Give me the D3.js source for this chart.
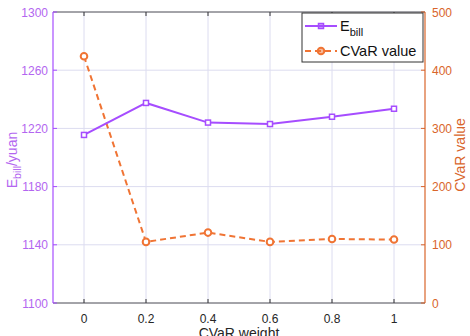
<!DOCTYPE html>
<html>
<head>
<meta charset="utf-8">
<script src="https://cdn.jsdelivr.net/npm/d3@7"></script>
<style>
  body { margin: 0; background: #fff; }
  svg { display: block; font-family: "Liberation Sans", Arial, sans-serif; }
</style>
</head>
<body>
<svg id="chart" width="470" height="336"></svg>
<script>
const weights = [0, 0.2, 0.4, 0.6, 0.8, 1];
const billValues = [1215.5, 1237.5, 1224, 1223, 1228, 1233.5];
const cvarValues = [424, 105, 121, 105, 110, 109];
const xTicks = [0, 0.2, 0.4, 0.6, 0.8, 1];
const leftTicks = [1100, 1140, 1180, 1220, 1260, 1300];
const rightTicks = [0, 100, 200, 300, 400, 500];

const PURPLE = "#a64dff";
const PURPLE_TXT = "#b366f0";
const ORANGE = "#f07434";
const ORANGE_TXT = "#d9652b";

const svg = d3.select("#chart");
const m = { left: 53, right: 425, top: 12, bottom: 303 };

const x = d3.scaleLinear().domain([-0.1, 1.1]).range([m.left, m.right]);
const yL = d3.scaleLinear().domain([1100, 1300]).range([m.bottom, m.top]);
const yR = d3.scaleLinear().domain([0, 500]).range([m.bottom, m.top]);

// grid
const grid = svg.append("g").attr("stroke", "#dcdcf0").attr("stroke-width", 1);
xTicks.forEach(t => {
    grid.append("line").attr("x1", x(t)).attr("x2", x(t))
        .attr("y1", m.top).attr("y2", m.bottom);
});
leftTicks.forEach(t => {
    grid.append("line").attr("x1", m.left).attr("x2", m.right)
        .attr("y1", yL(t)).attr("y2", yL(t));
});

// top and bottom frame
svg.append("line").attr("x1", m.left).attr("x2", m.right).attr("y1", m.top).attr("y2", m.top)
    .attr("stroke", "#5a5a5a");
svg.append("line").attr("x1", m.left).attr("x2", m.right).attr("y1", m.bottom).attr("y2", m.bottom)
    .attr("stroke", "#5a5a5a");

// x ticks (inward, top and bottom)
xTicks.forEach(t => {
    svg.append("line").attr("x1", x(t)).attr("x2", x(t)).attr("y1", m.bottom).attr("y2", m.bottom - 4)
        .attr("stroke", "#333");
    svg.append("line").attr("x1", x(t)).attr("x2", x(t)).attr("y1", m.top).attr("y2", m.top + 4)
        .attr("stroke", "#333");
    svg.append("text").attr("x", x(t)).attr("y", m.bottom + 20)
        .attr("text-anchor", "middle").attr("font-size", 12).attr("fill", "#262626")
        .text(t);
});

// left axis
svg.append("line").attr("x1", m.left).attr("x2", m.left).attr("y1", m.top).attr("y2", m.bottom)
    .attr("stroke", PURPLE).attr("stroke-width", 1.2);
leftTicks.forEach(t => {
    svg.append("line").attr("x1", m.left).attr("x2", m.left + 4).attr("y1", yL(t)).attr("y2", yL(t))
        .attr("stroke", PURPLE);
    svg.append("text").attr("x", m.left - 5).attr("y", yL(t) + 4.5)
        .attr("text-anchor", "end").attr("font-size", 12).attr("fill", PURPLE_TXT)
        .text(t);
});

// right axis
svg.append("line").attr("x1", m.right).attr("x2", m.right).attr("y1", m.top).attr("y2", m.bottom)
    .attr("stroke", ORANGE_TXT).attr("stroke-width", 1.2);
rightTicks.forEach(t => {
    svg.append("line").attr("x1", m.right).attr("x2", m.right - 4).attr("y1", yR(t)).attr("y2", yR(t))
        .attr("stroke", ORANGE_TXT);
    svg.append("text").attr("x", m.right + 7).attr("y", yR(t) + 4.5)
        .attr("text-anchor", "start").attr("font-size", 12).attr("fill", ORANGE_TXT)
        .text(t);
});

// axis titles
const lt = svg.append("text").attr("transform", "translate(17,160) rotate(-90)")
    .attr("text-anchor", "middle").attr("font-size", 14).attr("fill", PURPLE_TXT);
lt.append("tspan").text("E");
lt.append("tspan").attr("font-size", 10.5).attr("dy", 4).text("bill");
lt.append("tspan").attr("dy", -4).text("/yuan");

svg.append("text").attr("transform", "translate(465,155) rotate(-90)")
    .attr("text-anchor", "middle").attr("font-size", 14).attr("fill", ORANGE_TXT)
    .text("CVaR value");

svg.append("text").attr("x", x(0.5)).attr("y", 338)
    .attr("text-anchor", "middle").attr("font-size", 14).attr("fill", "#262626")
    .text("CVaR weight");

// series
const billLine = d3.line().x((d, i) => x(weights[i])).y(d => yL(d));
const cvarLine = d3.line().x((d, i) => x(weights[i])).y(d => yR(d));

svg.append("path").datum(cvarValues).attr("d", cvarLine)
    .attr("fill", "none").attr("stroke", ORANGE).attr("stroke-width", 2)
    .attr("stroke-dasharray", "6,4");
svg.selectAll("circle.cvar").data(cvarValues).join("circle").attr("class", "cvar")
    .attr("cx", (d, i) => x(weights[i])).attr("cy", d => yR(d)).attr("r", 3.3)
    .attr("fill", "#fff").attr("stroke", ORANGE).attr("stroke-width", 2);

svg.append("path").datum(billValues).attr("d", billLine)
    .attr("fill", "none").attr("stroke", PURPLE).attr("stroke-width", 2);
svg.selectAll("rect.bill").data(billValues).join("rect").attr("class", "bill")
    .attr("x", (d, i) => x(weights[i]) - 2.5).attr("y", d => yL(d) - 2.5)
    .attr("width", 5).attr("height", 5)
    .attr("fill", "#fff").attr("stroke", PURPLE).attr("stroke-width", 1.5);

// legend
const lg = svg.append("g");
lg.append("rect").attr("x", 302).attr("y", 13).attr("width", 121).attr("height", 49)
    .attr("fill", "#fff").attr("stroke", "#333").attr("stroke-width", 1);
lg.append("line").attr("x1", 305).attr("x2", 337).attr("y1", 26).attr("y2", 26)
    .attr("stroke", PURPLE).attr("stroke-width", 2);
lg.append("rect").attr("x", 318.5).attr("y", 23.5).attr("width", 5).attr("height", 5)
    .attr("fill", PURPLE).attr("fill-opacity", 0.5).attr("stroke", PURPLE).attr("stroke-width", 1.5);
const lt1 = lg.append("text").attr("x", 340).attr("y", 31).attr("font-size", 14.5).attr("fill", "#111");
lt1.append("tspan").text("E");
lt1.append("tspan").attr("font-size", 11).attr("dy", 5).text("bill");
lg.append("line").attr("x1", 305).attr("x2", 337).attr("y1", 51).attr("y2", 51)
    .attr("stroke", ORANGE).attr("stroke-width", 2).attr("stroke-dasharray", "6,4");
lg.append("circle").attr("cx", 321).attr("cy", 51).attr("r", 3.3)
    .attr("fill", ORANGE).attr("fill-opacity", 0.5).attr("stroke", ORANGE).attr("stroke-width", 2);
lg.append("text").attr("x", 340).attr("y", 56).attr("font-size", 14.5).attr("fill", "#111")
    .text("CVaR value");
</script>
</body>
</html>
